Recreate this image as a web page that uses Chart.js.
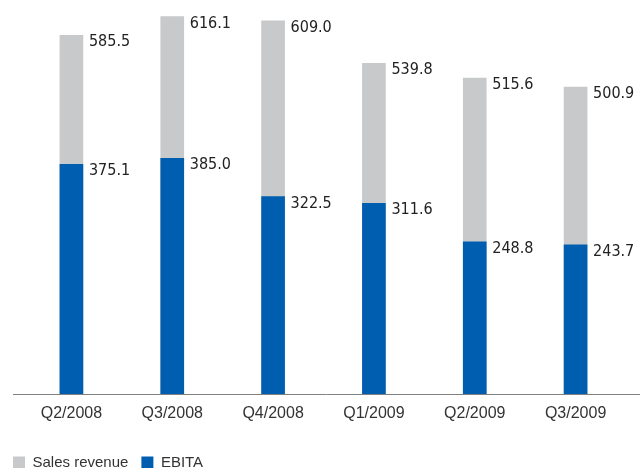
<!DOCTYPE html>
<html>
<head>
<meta charset="utf-8">
<script src="https://cdn.jsdelivr.net/npm/chart.js@4.4.0/dist/chart.umd.min.js"></script>
<style>
    html, body { margin: 0; padding: 0; background: #fff; overflow: hidden; }
    #wrap { position: relative; width: 640px; height: 480px; }
</style>
</head>
<body>
<div id="wrap"><canvas id="chart"></canvas></div>
<script>
    // quarter labels and values
    const quarters = ['Q2/2008', 'Q3/2008', 'Q4/2008', 'Q1/2009', 'Q2/2009', 'Q3/2009'];
    const salesRevenue = [585.5, 616.1, 609.0, 539.8, 515.6, 500.9];
    const ebita = [375.1, 385.0, 322.5, 311.6, 248.8, 243.7];

    const GREY = '#c8c9cb';
    const BLUE = '#005eb0';

    // value labels to the right of each bar top
    const valueLabels = {
        id: 'valueLabels',
        afterDatasetsDraw(chart) {
            const ctx = chart.ctx;
            ctx.save();
            ctx.font = '16px "DejaVu Sans Condensed", "DejaVu Sans", sans-serif';
            ctx.fillStyle = '#222';
            ctx.textAlign = 'left';
            ctx.textBaseline = 'middle';
            chart.data.datasets.forEach((ds, i) => {
                const meta = chart.getDatasetMeta(i);
                meta.data.forEach((bar, j) => {
                    ctx.fillText(ds.data[j].toFixed(1), bar.x + bar.width / 2 + 6, bar.y + 7);
                });
            });
            ctx.restore();
        }
    };

    // baseline runs a bit wider than the plot area
    const baseLine = {
        id: 'baseLine',
        afterDatasetsDraw(chart) {
            const ctx = chart.ctx;
            const y = Math.round(chart.scales.y.getPixelForValue(0)) + 0.5;
            ctx.save();
            ctx.strokeStyle = '#808080';
            ctx.lineWidth = 1;
            ctx.beginPath();
            ctx.moveTo(13, y);
            ctx.lineTo(chart.width, y);
            ctx.stroke();
            ctx.restore();
        }
    };

    new Chart(document.getElementById('chart'), {
        type: 'bar',
        data: {
            labels: quarters,
            datasets: [
                { label: 'Sales revenue', data: salesRevenue, backgroundColor: GREY, order: 2, barThickness: 23 },
                { label: 'EBITA', data: ebita, backgroundColor: BLUE, order: 1, barThickness: 23 }
            ]
        },
        options: {
            responsive: true,
            maintainAspectRatio: false,
            animation: false,
            layout: { padding: { left: 0, right: 14, top: 0, bottom: 0 } },
            plugins: {
                tooltip: { enabled: false },
                legend: {
                    position: 'bottom',
                    align: 'start',
                    labels: {
                        sort: (a, b) => a.datasetIndex - b.datasetIndex,
                        // non-breaking spaces widen the gap before the next item
                        generateLabels: (chart) => {
                            const items = Chart.defaults.plugins.legend.labels.generateLabels(chart);
                            items.forEach((it, k) => { if (k < items.length - 1) it.text += '\u00a0'; });
                            return items;
                        },
                        boxWidth: 12,
                        boxHeight: 12,
                        padding: 13,
                        color: '#333',
                        font: { family: '"Liberation Sans", Arial, sans-serif', size: 15 }
                    }
                }
            },
            scales: {
                x: {
                    stacked: true,
                    grid: { display: false, drawTicks: false },
                    border: { display: false },
                    ticks: {
                        color: '#333',
                        padding: 10,
                        font: { family: '"Liberation Sans", Arial, sans-serif', size: 16 }
                    },
                    title: { display: true, text: ' ', font: { size: 7 }, padding: { top: 0, bottom: 0 } }
                },
                y: {
                    stacked: false,
                    min: 0,
                    max: 643,
                    grid: { display: false, drawTicks: false },
                    border: { display: false },
                    ticks: { display: false },
                    afterFit: (scale) => { scale.width = 21; }
                }
            }
        },
        plugins: [valueLabels, baseLine]
    });
</script>
</body>
</html>
